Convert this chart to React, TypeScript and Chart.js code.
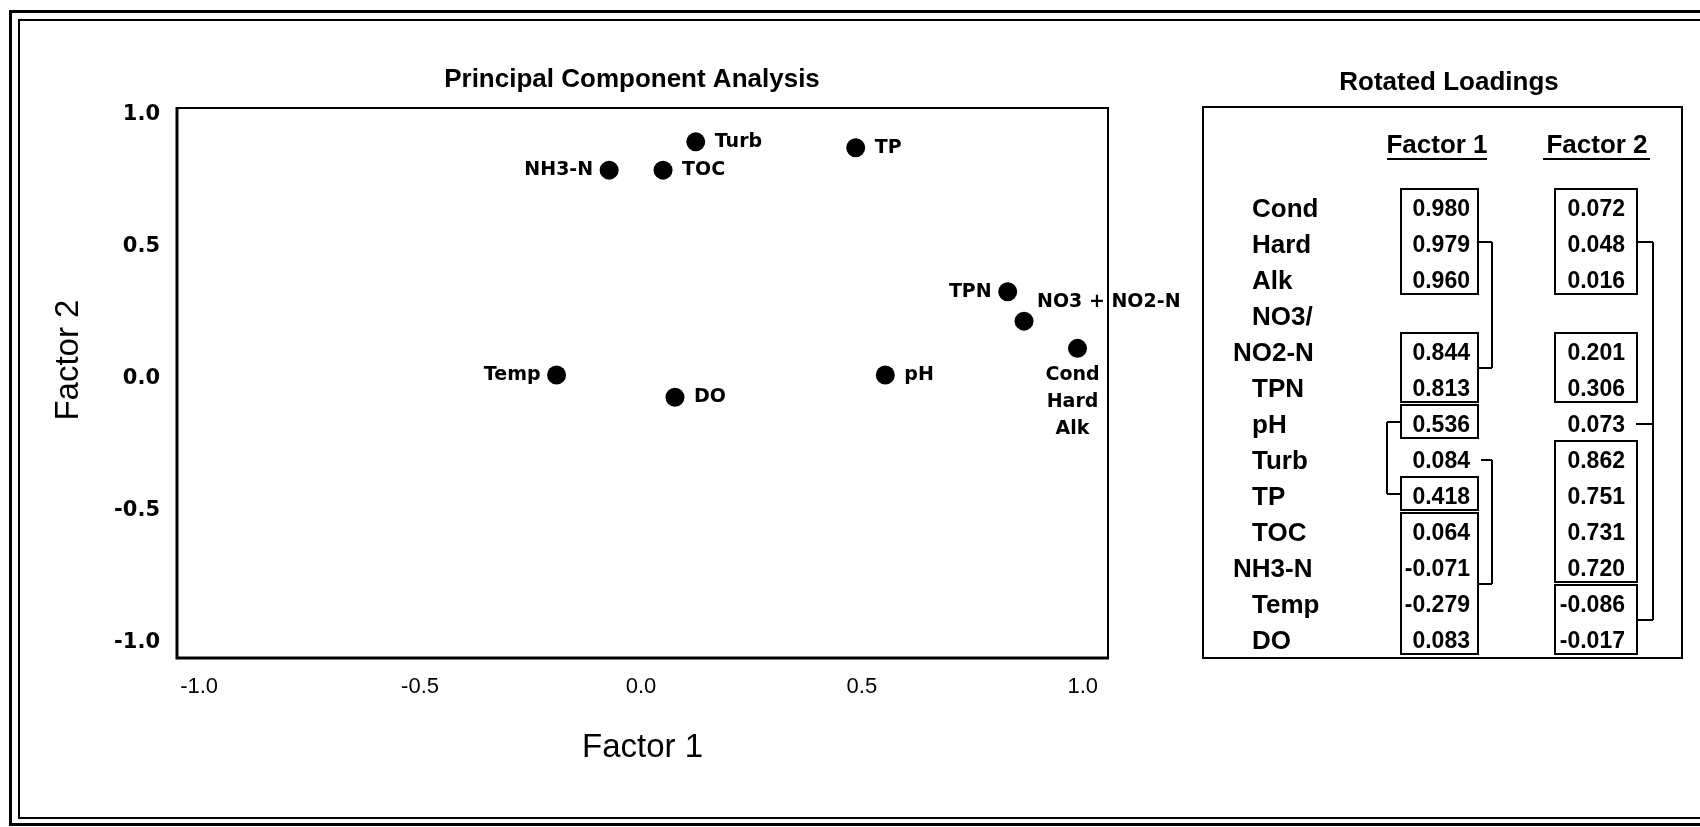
import React, { useEffect, useRef } from 'react';
import { Chart, registerables } from 'chart.js';

Chart.register(...registerables);

const FONT = '"Liberation Sans", Arial, Helvetica, sans-serif';
const WIDE = '"DejaVu Sans", "Liberation Sans", sans-serif';

// ---------- PCA scatter data ----------
const pointNames = ['Cond\nHard\nAlk', 'NO3 + NO2-N', 'TPN', 'pH', 'Turb', 'TP', 'TOC', 'NH3-N', 'Temp', 'DO'];
const factor1Scores = [0.988, 0.867, 0.83, 0.553, 0.124, 0.486, 0.05, -0.072, -0.191, 0.077];
const factor2Scores = [0.114, 0.217, 0.328, 0.013, 0.895, 0.873, 0.788, 0.788, 0.013, -0.071];
const axisTicks = [-1, -0.5, 0, 0.5, 1];

// label placement relative to each point (style only)
const labelPlacement = ['below', 'rightUp', 'left', 'right', 'right', 'right', 'right', 'left', 'left', 'right'];

// ---------- Rotated loadings table ----------
const loadingVariables = ['Cond', 'Hard', 'Alk', 'NO3/\nNO2-N', 'TPN', 'pH', 'Turb', 'TP', 'TOC', 'NH3-N', 'Temp', 'DO'];
const loadingsF1 = [0.98, 0.979, 0.96, 0.844, 0.813, 0.536, 0.084, 0.418, 0.064, -0.071, -0.279, 0.083];
const loadingsF2 = [0.072, 0.048, 0.016, 0.201, 0.306, 0.073, 0.862, 0.751, 0.731, 0.72, -0.086, -0.017];
const f1Boxes = [[0, 2], [3, 4], [5, 5], [7, 7], [8, 11]];
const f2Boxes = [[0, 2], [3, 4], [6, 9], [10, 11]];
const f1Links = [
  { side: 'right', ends: [{ box: 0 }, { box: 1 }] },
  { side: 'left', ends: [{ box: 2 }, { box: 3 }] },
  { side: 'right', ends: [{ row: 6 }, { box: 4 }] },
];
const f2Links = [{ side: 'right', ends: [{ box: 0 }, { row: 5 }, { box: 3 }] }];

const framePlugin = {
  id: 'plotFrame',
  beforeDatasetsDraw(chart: any) {
    const { ctx, chartArea } = chart;
    const { left, top, right, bottom } = chartArea;
    ctx.save();
    ctx.strokeStyle = '#000';
    ctx.lineWidth = 2;
    ctx.beginPath();
    ctx.moveTo(left, top);
    ctx.lineTo(right, top);
    ctx.lineTo(right, bottom);
    ctx.stroke();
    ctx.lineWidth = 3;
    ctx.beginPath();
    ctx.moveTo(left, top - 1);
    ctx.lineTo(left, bottom);
    ctx.lineTo(right + 1, bottom);
    ctx.stroke();
    ctx.restore();
  },
};

const pointLabelPlugin = {
  id: 'pointLabels',
  afterDatasetsDraw(chart: any) {
    const ctx = chart.ctx;
    const pts = chart.getDatasetMeta(0).data;
    ctx.save();
    ctx.fillStyle = '#000';
    ctx.font = `bold 19px ${WIDE}`;
    ctx.textBaseline = 'middle';
    pts.forEach((p: any, i: number) => {
      const lines = pointNames[i].split('\n');
      const place = labelPlacement[i];
      const x = p.x;
      const y = p.y;
      if (place === 'right') {
        ctx.textAlign = 'left';
        ctx.fillText(lines[0], x + 19, y);
      } else if (place === 'left') {
        ctx.textAlign = 'right';
        ctx.fillText(lines[0], x - 16, y);
      } else if (place === 'rightUp') {
        ctx.textAlign = 'left';
        ctx.fillText(lines[0], x + 13, y - 19);
      } else {
        ctx.textAlign = 'center';
        lines.forEach((l: string, k: number) => ctx.fillText(l, x - 5, y + 27 + k * 26.7));
      }
    });
    ctx.restore();
  },
};

function Text(props: { x: number; y: number; align?: string; size: number; weight?: string; children: any }) {
  const { x, y, align = 'left', size, weight = 'normal', children } = props;
  const h = Math.round(size * 1.4);
  const style: any = {
    position: 'absolute',
    top: y - h / 2,
    height: h,
    lineHeight: h + 'px',
    fontSize: size,
    fontFamily: FONT,
    fontWeight: weight,
    whiteSpace: 'nowrap',
    color: '#000',
  };
  if (align === 'left') {
    style.left = x;
  } else if (align === 'right') {
    style.left = x - 300;
    style.width = 300;
    style.textAlign = 'right';
  } else {
    style.left = x - 300;
    style.width = 600;
    style.textAlign = 'center';
  }
  return <div style={style}>{children}</div>;
}

function LoadingsPanel() {
  const firstLineY = 208;
  const lineStep = 36;
  const labelX = 1252;
  const outdentX = 1233;

  const varLines: number[][] = [];
  let k = 0;
  loadingVariables.forEach((v) => {
    const n = v.split('\n').length;
    varLines.push(Array.from({ length: n }, (_, j) => k + j));
    k += n;
  });
  const valueY = (i: number) => firstLineY + varLines[i][varLines[i].length - 1] * lineStep;

  const cols = [
    {
      header: 'Factor 1', headerX: 1437, ulLeft: 1387, ulRight: 1487,
      values: loadingsF1, boxes: f1Boxes, links: f1Links,
      valueRight: 1470, boxLeft: 1401, boxRight: 1478, rightLinkX: 1492, leftLinkX: 1387,
    },
    {
      header: 'Factor 2', headerX: 1597, ulLeft: 1543, ulRight: 1650,
      values: loadingsF2, boxes: f2Boxes, links: f2Links,
      valueRight: 1625, boxLeft: 1555, boxRight: 1637, rightLinkX: 1653, leftLinkX: 1540,
    },
  ];

  const texts: any[] = [];
  const shapes: any[] = [];

  texts.push(<Text key="rt" x={1449} y={81} align="center" size={26} weight="bold">Rotated Loadings</Text>);
  shapes.push(<rect key="tbox" x={1203} y={107} width={479} height={551} fill="none" stroke="#000" strokeWidth={2} />);

  loadingVariables.forEach((v, i) => {
    v.split('\n').forEach((line, j) => {
      const y = firstLineY + varLines[i][j] * lineStep;
      texts.push(
        <Text key={`lab${i}-${j}`} x={line.length > 4 ? outdentX : labelX} y={y} size={26} weight="bold">{line}</Text>
      );
    });
  });

  cols.forEach((c, ci) => {
    texts.push(<Text key={`h${ci}`} x={c.headerX} y={144} align="center" size={26} weight="bold">{c.header}</Text>);
    shapes.push(<line key={`ul${ci}`} x1={c.ulLeft} x2={c.ulRight} y1={159} y2={159} stroke="#000" strokeWidth={2} />);
    c.values.forEach((val, i) => {
      texts.push(
        <Text key={`v${ci}-${i}`} x={c.valueRight} y={valueY(i)} align="right" size={23} weight="bold">{val.toFixed(3)}</Text>
      );
    });
    const boxGeom = c.boxes.map(([a, b]) => ({ top: valueY(a) - 19, bottom: valueY(b) + 14 }));
    boxGeom.forEach((g, bi) => {
      shapes.push(
        <rect key={`b${ci}-${bi}`} x={c.boxLeft} y={g.top} width={c.boxRight - c.boxLeft} height={g.bottom - g.top}
          fill="none" stroke="#000" strokeWidth={2} />
      );
    });
    c.links.forEach((lk, li) => {
      const lx = lk.side === 'right' ? c.rightLinkX : c.leftLinkX;
      const pts = lk.ends.map((e: any) => {
        if (e.box !== undefined) {
          const g = boxGeom[e.box];
          return { x: lk.side === 'right' ? c.boxRight : c.boxLeft, y: (g.top + g.bottom) / 2 };
        }
        return { x: lk.side === 'right' ? c.valueRight + 11 : c.valueRight - 72, y: valueY(e.row) };
      });
      const ys = pts.map((p: any) => p.y);
      shapes.push(
        <line key={`lv${ci}-${li}`} x1={lx} x2={lx} y1={Math.min(...ys)} y2={Math.max(...ys)} stroke="#000" strokeWidth={2} />
      );
      pts.forEach((p: any, pi: number) => {
        shapes.push(
          <line key={`lh${ci}-${li}-${pi}`} x1={p.x} x2={lx} y1={p.y} y2={p.y} stroke="#000" strokeWidth={2} />
        );
      });
    });
  });

  return (
    <>
      <svg width={1700} height={827} style={{ position: 'absolute', left: 0, top: 0 }} shapeRendering="crispEdges">
        {shapes}
      </svg>
      {texts}
    </>
  );
}

export default function App() {
  const canvasRef = useRef<HTMLCanvasElement | null>(null);

  useEffect(() => {
    const canvas = canvasRef.current;
    if (!canvas) return;
    const chart = new Chart(canvas, {
      type: 'scatter',
      data: {
        datasets: [
          {
            data: factor1Scores.map((x, i) => ({ x, y: factor2Scores[i] })),
            pointRadius: 9.5,
            pointHoverRadius: 9.5,
            pointBackgroundColor: '#000',
            pointBorderColor: '#000',
            pointBorderWidth: 0,
          },
        ],
      },
      options: {
        responsive: false,
        animation: false,
        events: [],
        layout: { padding: { left: 49, top: 64, right: 485, bottom: 59 } },
        plugins: {
          legend: { display: false },
          tooltip: { enabled: false },
          title: {
            display: true,
            text: 'Principal Component Analysis',
            color: '#000',
            font: { family: FONT, size: 26, weight: 'bold', lineHeight: 1.2 },
            padding: { top: 0, bottom: 12.8 },
          },
        },
        scales: {
          x: {
            type: 'linear',
            position: 'bottom',
            min: -1.05,
            max: 1.057,
            afterBuildTicks: (s: any) => {
              s.ticks = axisTicks.map((v) => ({ value: v }));
            },
            afterFit: (s: any) => {
              s.height = 110;
            },
            grid: { display: false, drawTicks: false },
            border: { display: false },
            ticks: {
              color: '#000',
              font: { family: FONT, size: 22 },
              padding: 16,
              maxRotation: 0,
              autoSkip: false,
              callback: (v: any) => Number(v).toFixed(1),
            },
            title: {
              display: true,
              text: 'Factor 1',
              color: '#000',
              font: { family: FONT, size: 33 },
              padding: 0,
            },
          },
          y: {
            type: 'linear',
            position: 'left',
            min: -1.057,
            max: 1.023,
            afterBuildTicks: (s: any) => {
              s.ticks = axisTicks.map((v) => ({ value: v }));
            },
            afterFit: (s: any) => {
              s.width = 128;
            },
            grid: { display: false, drawTicks: false },
            border: { display: false },
            ticks: {
              color: '#000',
              font: { family: WIDE, size: 21, weight: 'bold' },
              padding: 17,
              autoSkip: false,
              callback: (v: any) => Number(v).toFixed(1),
            },
            title: {
              display: true,
              // leading spaces nudge the rotated title upward, as in the source figure
              text: '     Factor 2',
              color: '#000',
              font: { family: FONT, size: 33 },
              padding: 0,
            },
          },
          y2: {
            type: 'linear',
            position: 'right',
            display: true,
            afterFit: (s: any) => {
              s.width = 107;
            },
            grid: { display: false, drawTicks: false },
            border: { display: false },
            ticks: { display: false },
            title: { display: false },
          },
        },
      } as any,
      plugins: [framePlugin, pointLabelPlugin],
    });
    return () => chart.destroy();
  }, []);

  return (
    <div style={{ position: 'absolute', left: 0, top: 0, width: 1700, height: 827, background: '#fff', overflow: 'hidden' }}>
      <canvas ref={canvasRef} width={1700} height={827} style={{ position: 'absolute', left: 0, top: 0, width: 1700, height: 827 }} />
      <div style={{ position: 'absolute', left: 9, top: 10, width: 1691, height: 816, borderTop: '3px solid #000', borderLeft: '3px solid #000', borderBottom: '3px solid #000', boxSizing: 'border-box' }} />
      <div style={{ position: 'absolute', left: 18, top: 19, width: 1682, height: 800, borderTop: '2px solid #000', borderLeft: '2px solid #000', borderBottom: '2px solid #000', boxSizing: 'border-box' }} />
      <LoadingsPanel />
    </div>
  );
}
